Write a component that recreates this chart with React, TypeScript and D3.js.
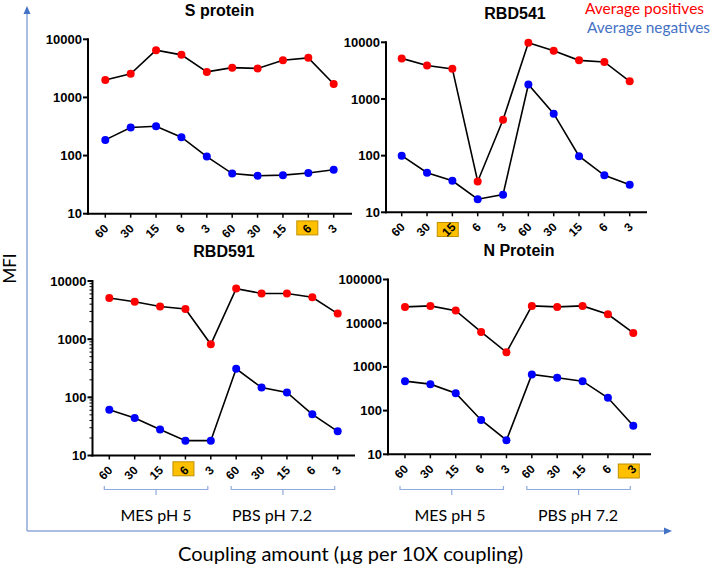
import React from "react";
import * as d3 from "d3";

// ---------- data ----------
const doses = ["60", "30", "15", "6", "3", "60", "30", "15", "6", "3"];
const bufferGroups = ["MES pH 5", "PBS pH 7.2"];
const panelTitles = ["S protein", "RBD541", "RBD591", "N Protein"];
const legendLabels = ["Average positives", "Average negatives"];

const sProteinPos = [2000, 2550, 6500, 5400, 2750, 3250, 3150, 4350, 4800, 1700];
const sProteinNeg = [186, 304, 320, 207, 96, 49, 45, 46, 50, 57];
const rbd541Pos = [5200, 3900, 3400, 35, 430, 9800, 7100, 4800, 4500, 2050];
const rbd541Neg = [100, 50, 36, 17, 20.5, 1800, 550, 98, 45, 30.5];
const rbd591Pos = [5100, 4400, 3650, 3300, 815, 7400, 6100, 6100, 5250, 2750];
const rbd591Neg = [61, 44, 28, 18, 18, 310, 147, 121, 51, 26];
const nProteinPos = [23600, 24900, 19400, 6300, 2150, 24900, 23600, 24900, 16000, 6000];
const nProteinNeg = [472, 403, 251, 61, 21, 671, 563, 472, 196, 45];

const positives = [sProteinPos, rbd541Pos, rbd591Pos, nProteinPos];
const negatives = [sProteinNeg, rbd541Neg, rbd591Neg, nProteinNeg];
const highlightedDose = [8, 2, 3, 9];
const yDomains: [number, number][] = [[10, 10000], [10, 10000], [10, 10000], [10, 100000]];

// ---------- layout ----------
const layouts = [
  { titleX: 219.5, titleY: 15.5, axisX: 88, yTop: 39.3, yBottom: 213.7, xFirst: 105.3, xLast: 333.7, xEnd: 352, minor: false, box: [-1, 14.2], brackets: null as null | number[] },
  { titleX: 515, titleY: 19, axisX: 386, yTop: 42.3, yBottom: 212.3, xFirst: 401.7, xLast: 629.7, xEnd: 647, minor: false, box: [-4.6, 17.2], brackets: null },
  { titleX: 224, titleY: 256.5, axisX: 92.5, yTop: 281, yBottom: 455.5, xFirst: 109.3, xLast: 337.7, xEnd: 355, minor: true, box: [-2, 13.3], brackets: [156, 272] },
  { titleX: 519, titleY: 256, axisX: 388, yTop: 279.5, yBottom: 454.3, xFirst: 405, xLast: 633.3, xEnd: 651, minor: false, box: [-4.5, 16.7], brackets: [450, 578] },
];

const tickFont = "'Liberation Sans', Arial, sans-serif";
const textFont = "Lato, 'Open Sans', sans-serif";
const frameBlue = "#8FAADC";
const arrowBlue = "#4472C4";

function Panel({ i }: { i: number }) {
  const L = layouts[i];
  const dom = yDomains[i];
  const y = d3.scaleLog().domain(dom).range([L.yBottom, L.yTop]);
  const x = d3.scalePoint<number>().domain(d3.range(doses.length)).range([L.xFirst, L.xLast]);
  const line = d3
    .line<number>()
    .x((_, j) => x(j) as number)
    .y((v) => y(v));
  const majors = y.ticks().filter((t) => Math.abs(Math.log10(t) - Math.round(Math.log10(t))) < 1e-9);
  const minors = L.minor ? y.ticks().filter((t) => !majors.includes(t)) : [];
  const axisY = L.yBottom;
  const hx = x(highlightedDose[i]) as number;

  const groupRanges = [
    [0, 4],
    [5, 9],
  ];

  return (
    <g>
      <text x={L.titleX} y={L.titleY} textAnchor="middle" fontFamily={tickFont} fontWeight="bold" fontSize={16}>
        {panelTitles[i]}
      </text>
      {/* highlight box */}
      <rect x={hx + L.box[0] - 10.5} y={axisY + L.box[1] - 7} width={21} height={14} fill="#FFC000" stroke="#BF9000" strokeWidth={1} />
      {/* y axis */}
      <line x1={L.axisX} x2={L.axisX} y1={L.yTop - 1} y2={axisY + 1} stroke="#000" strokeWidth={2} />
      {majors.map((t) => (
        <g key={"M" + t}>
          <line x1={L.axisX - 5} x2={L.axisX} y1={y(t)} y2={y(t)} stroke="#000" strokeWidth={2} />
          <text x={L.axisX - 6} y={y(t)} dy="0.35em" textAnchor="end" fontFamily={tickFont} fontWeight="bold" fontSize={13}>
            {String(t)}
          </text>
        </g>
      ))}
      {minors.map((t) => (
        <line key={"m" + t} x1={L.axisX - 3} x2={L.axisX} y1={y(t)} y2={y(t)} stroke="#000" strokeWidth={1} />
      ))}
      {/* x axis */}
      <line x1={L.axisX - 1} x2={L.xEnd} y1={axisY} y2={axisY} stroke="#000" strokeWidth={2} />
      {doses.map((d, j) => {
        const px = x(j) as number;
        return (
          <g key={"x" + j}>
            <line x1={px} x2={px} y1={axisY} y2={axisY + 4} stroke="#000" strokeWidth={1.5} />
            <text
              transform={`translate(${px + 4},${axisY + 15.5}) rotate(-45)`}
              textAnchor="end"
              fontFamily={tickFont}
              fontWeight="bold"
              fontSize={12}
            >
              {d}
            </text>
          </g>
        );
      })}
      {/* series */}
      {[positives[i], negatives[i]].map((vals, s) => (
        <g key={"s" + s}>
          <path d={line(vals) || ""} fill="none" stroke="#000" strokeWidth={1.6} />
          {vals.map((v, j) => (
            <circle key={j} cx={x(j) as number} cy={y(v)} r={4} fill={s === 0 ? "#FF0000" : "#0000FF"} />
          ))}
        </g>
      ))}
      {/* brackets */}
      {L.brackets &&
        groupRanges.map((r, g) => {
          const x0 = (x(r[0]) as number) - 5;
          const x1 = (x(r[1]) as number) - 3;
          const cx = (x0 + x1) / 2;
          return (
            <g key={"b" + g}>
              <path
                d={`M${x0},486 L${x0},489.5 L${x1},489.5 L${x1},486 M${cx},489.5 L${cx},495`}
                fill="none"
                stroke={frameBlue}
                strokeWidth={1.2}
              />
              <text x={L.brackets![g]} y={521} textAnchor="middle" fontFamily={textFont} fontSize={16}>
                {bufferGroups[g]}
              </text>
            </g>
          );
        })}
    </g>
  );
}

export default function App() {
  return (
    <svg width={712} height={567} style={{ position: "absolute", left: 0, top: 0, background: "#fff" }}>
      <rect x={0} y={0} width={712} height={567} fill="#fff" />
      {/* frame arrows */}
      <line x1={27} x2={27} y1={531} y2={12} stroke={frameBlue} strokeWidth={1.5} />
      <polygon points="27,6 23.5,14 30.5,14" fill={arrowBlue} />
      <line x1={27} x2={665} y1={531} y2={531} stroke={frameBlue} strokeWidth={1.5} />
      <polygon points="672,531 664,527.5 664,534.5" fill={arrowBlue} />
      {[0, 1, 2, 3].map((i) => (
        <Panel key={i} i={i} />
      ))}
      {/* legend */}
      <text x={585} y={13.5} fontFamily={textFont} fontSize={15} fill="#FF0000" textLength={119} lengthAdjust="spacingAndGlyphs">
        {legendLabels[0]}
      </text>
      <text x={587} y={33} fontFamily={textFont} fontSize={15} fill={arrowBlue} textLength={123} lengthAdjust="spacingAndGlyphs">
        {legendLabels[1]}
      </text>
      {/* axis titles */}
      <text transform="translate(16,268.5) rotate(-90)" textAnchor="middle" fontFamily={textFont} fontSize={17}>
        MFI
      </text>
      <text x={178} y={561} fontFamily={textFont} fontSize={19} textLength={345} lengthAdjust="spacingAndGlyphs">
        Coupling amount (µg per 10X coupling)
      </text>
    </svg>
  );
}
